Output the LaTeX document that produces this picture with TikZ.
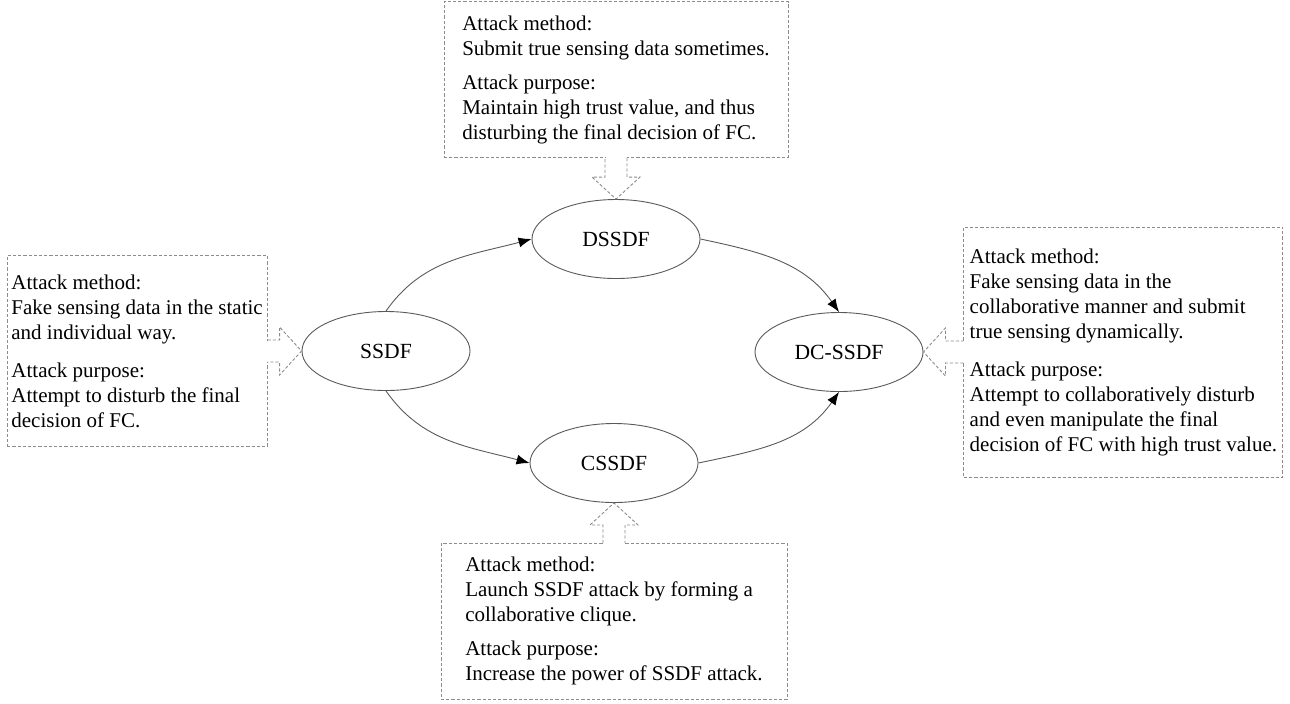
\documentclass[tikz,border=0pt]{standalone}
\usepackage{fontspec}
\setmainfont{Liberation Serif}
\usetikzlibrary{calc}
\usetikzlibrary{positioning}
\usetikzlibrary{shapes.geometric}
\usetikzlibrary{arrows.meta}
\definecolor{dash-gray}{gray}{0.55}
\definecolor{line-gray}{gray}{0.35}
\tikzstyle{stage}=[ellipse,draw=line-gray,line width=0.45pt,minimum width=84pt,minimum height=39.5pt,inner sep=0pt,font=\fontsize{10.8}{12.5}\selectfont]
\tikzstyle{infobox}=[draw=dash-gray,dash pattern=on 1.6pt off 1pt,line width=0.45pt,align=left,inner xsep=2pt,inner ysep=5pt,font=\fontsize{10.5}{12.5}\selectfont]
\tikzstyle{callline}=[draw=dash-gray,dash pattern=on 1.6pt off 1pt,line width=0.45pt,line join=miter]
\tikzstyle{transition}=[draw=line-gray,line width=0.45pt,-{Latex[length=6.5pt,width=5pt,color=black]}]
\newcommand{\callout}[3]{% Syntax: {base point on box} {direction} {length}
  \begin{scope}[shift={(#1)},rotate=#2]
	\fill[white] (-1,-10.5) rectangle (1,10.5); % open the box border
	\draw[callline] (0,-11) -- (#3-22,-11) -- (#3-22,-24) -- (#3,0) -- (#3-22,24) -- (#3-22,11) -- (0,11);
  \end{scope}
}

\begin{document}
\begin{tikzpicture}[x=0.5pt,y=-0.5pt]
\useasboundingbox (0,0) rectangle (1290,703);
	% attack types
	\node[stage] (ssdf) at (386,351) {SSDF};
	\node[stage] (dssdf) at (616,239) {DSSDF};
	\node[stage] (cssdf) at (614,463) {CSSDF};
	\node[stage] (dcssdf) at (839,352) {DC-SSDF};
	% transitions (angles are on paper)
	\draw[transition] (ssdf.north) to [out=55,in=195] (dssdf.west);
	\draw[transition] (ssdf.south) to [out=-55,in=165] (cssdf.west);
	\draw[transition] (dssdf.east) to [out=-12,in=125] (dcssdf.north);
	\draw[transition] (cssdf.east) to [out=12,in=-125] (dcssdf.south);
	% descriptions
	\node[infobox,minimum width=172pt,inner ysep=7pt,above=20.5pt of dssdf] (dssdfbox) {Attack method:\\
		Submit true sensing data sometimes.\\[4.5pt]
		Attack purpose:\\
		Maintain high trust value, and thus\\
		disturbing the final decision of FC.};
	\node[infobox,minimum width=130pt,minimum height=95.5pt,left=17pt of ssdf] (ssdfbox) {Attack method:\\
		Fake sensing data in the static\\
		and individual way.\\[6.5pt]
		Attack purpose:\\
		Attempt to disturb the final\\
		decision of FC.};
	\node[infobox,minimum width=159.5pt,minimum height=125pt,right=20pt of dcssdf] (dcssdfbox) {Attack method:\\
		Fake sensing data in the\\
		collaborative manner and submit\\
		true sensing dynamically.\\[6.5pt]
		Attack purpose:\\
		Attempt to collaboratively disturb\\
		and even manipulate the final\\
		decision of FC with high trust value.};
	\node[infobox,minimum width=173pt,inner ysep=7pt,below=20pt of cssdf] (cssdfbox) {Attack method:\\
		Launch SSDF attack by forming a\\
		collaborative clique.\\[4.5pt]
		Attack purpose:\\
		Increase the power of SSDF attack.};
	% callout arrows
	\callout{dssdfbox.south}{-90}{41}
	\callout{ssdfbox.east}{0}{34}
	\callout{dcssdfbox.west}{180}{40}
	\callout{cssdfbox.north}{90}{40}
\end{tikzpicture}
\end{document}
